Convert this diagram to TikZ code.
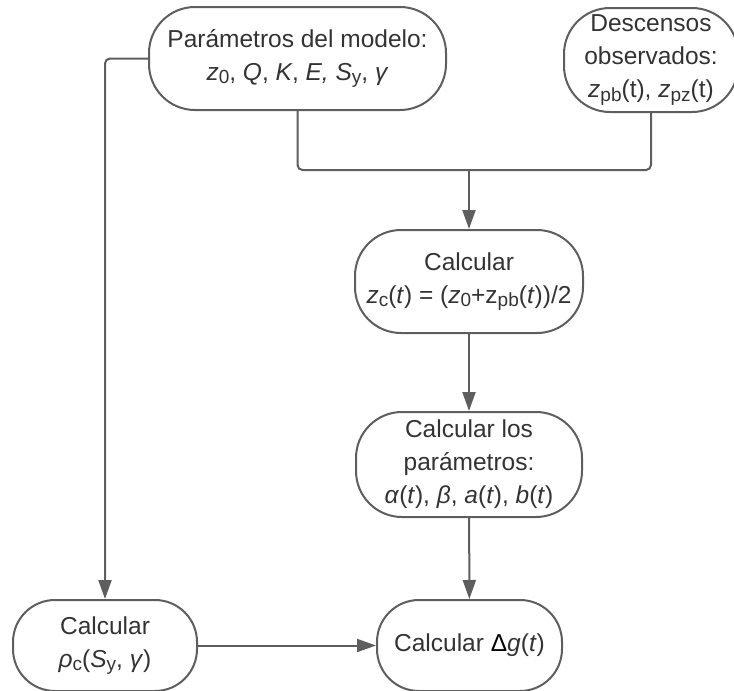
\documentclass[tikz,border=0pt]{standalone}
\usepackage{fontspec}
\setmainfont{Liberation Sans}
\usepackage{xcolor}
\usetikzlibrary{arrows.meta}
\definecolor{linegray}{HTML}{5E5E5E}
\definecolor{txtgray}{HTML}{333333}
\newcommand{\sbs}[1]{\raisebox{-3.5pt}{\fontsize{19}{19}\selectfont #1}}
\tikzset{
  term/.style={rectangle, rounded corners=46pt, draw=linegray, line width=2pt, align=center,
               text=txtgray, inner sep=0pt, font=\fontsize{24.5}{33}\selectfont},
  conn/.style={draw=linegray, line width=2pt, rounded corners=5pt},
  arrowline/.style={conn, -{Triangle[length=19pt, width=13pt]}},
}

\begin{document}
\begin{tikzpicture}[x=1pt, y=-1pt]
\useasboundingbox (0,0) rectangle (734,691);
\node[term, minimum width=297pt, minimum height=103pt] (params) at (297.5,58.5)
  {Parámetros del modelo:\\\textit{z}\sbs{0}, \textit{Q}, \textit{K}, \textit{E,} \textit{S}\sbs{y}, \textit{γ}};
\node[term, minimum width=174pt, minimum height=104pt] (desc) at (651,60)
  {Descensos\\observados:\\\textit{z}\sbs{pb}(t), \textit{z}\sbs{pz}(t)};
\node[term, minimum width=228pt, minimum height=103pt] (calczc) at (469,281.5)
  {Calcular\\\textit{z}\sbs{c}(\textit{t}) = (\textit{z}\sbs{0}+z\sbs{pb}(\textit{t}))/2};
\node[term, minimum width=226pt, minimum height=105pt] (calcpar) at (469,464.5)
  {Calcular los\\parámetros:\\\textit{α}(\textit{t}), \textit{β}, \textit{a}(\textit{t}), \textit{b}(\textit{t})};
\node[term, rounded corners=42pt, minimum width=184pt, minimum height=91pt] (rho) at (105,645.5)
  {Calcular\\\textit{ρ}\sbs{c}(\textit{S}\sbs{y}, \textit{γ})};
\node[term, rounded corners=42pt, minimum width=185pt, minimum height=91pt] (dg) at (469.5,645.5)
  {Calcular {\color{black}Δ}\textit{g}(\textit{t})};
\coordinate (join) at (469,170);

\draw[conn] (params.south) |- (join);
\draw[conn] (desc.south) |- (join);
\draw[arrowline] (join) -- (calczc);
\draw[arrowline] (calczc) -- (calcpar);
\draw[arrowline] (calcpar) -- (dg);
\draw[arrowline] (params.west) -| (rho.north);
\draw[arrowline] (rho) -- (dg);
\end{tikzpicture}
\end{document}
